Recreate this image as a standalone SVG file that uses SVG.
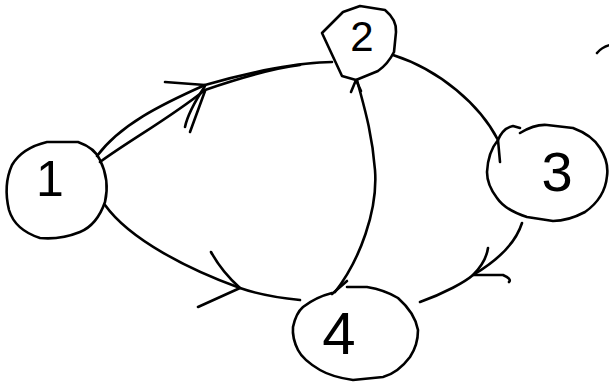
<svg xmlns="http://www.w3.org/2000/svg" width="609" height="385" viewBox="0 0 609 385">
<style>
.s{fill:none;stroke:#000;stroke-width:2.6;stroke-linecap:round;stroke-linejoin:round}
.t{font-family:"Liberation Sans",Arial,sans-serif;fill:#000;text-anchor:middle}
</style>
<rect width="609" height="385" fill="#fff"/>
<g id="connectors">
<path class="s" d="M97,156 C120,125 160,105 205,85 C250,72 300,62 332,62"/>
<path class="s" d="M100,162 C130,140 170,118 205,90 C240,78 275,68 300,65"/>
<path class="s" d="M165,82 L205,85 M185,127 Q188,112 205,86 M190,132 Q198,110 205,91"/>
<path class="s" d="M105,205 C130,240 190,270 240,288 C260,295 280,298 300,300"/>
<path class="s" d="M211,252 Q222,272 240,288 M198,307 L240,288"/>
<path class="s" d="M393,55 C440,70 480,105 498,140 L500,162"/>
<path class="s" d="M522,223 C515,245 495,262 473,275 C465,282 445,293 420,302"/>
<path class="s" d="M488,248 Q486,262 473,275 L503,275 Q512,279 509,282"/>
<path class="s" d="M335,292 C360,260 378,210 375,170 C372,130 362,100 357,80"/>
<path class="s" d="M351,92 L356,80 L361,91"/>
<path class="s" d="M332,294 L347,281"/>
<path class="s" d="M597,53 Q602,47 610,45"/>
</g>
<g id="node1">
<path class="s" d="M47,142 L78,142 Q95,148 100,160 Q110,180 105,202 Q97,225 80,232 Q60,240 40,238 Q15,230 9,210 Q3,185 12,165 Q22,148 47,142 Z"/>
<text class="t" x="50" y="196" font-size="50">1</text>
</g>
<g id="node2">
<path class="s" d="M322,33 L343,12 L360,6 L385,10 Q397,20 396,32 L394,52 Q388,64 378,71 L356,80 L342,76 Z"/>
<text class="t" x="362" y="51" font-size="42">2</text>
</g>
<g id="node3">
<path class="s" d="M520,133 Q535,124 547,125 L573,128 Q592,135 600,148 Q609,162 607,176 Q605,198 585,212 Q568,221 553,221 L527,217 Q505,210 497,198 Q487,185 487,172 Q488,152 498,140 Q503,128 513,126 L520,128"/>
<text class="t" x="557" y="191" font-size="56">3</text>
</g>
<g id="node4">
<path class="s" d="M347,287 L367,287 Q385,290 398,298 Q415,313 418,330 Q418,345 410,357 Q398,373 383,377 L353,380 Q332,377 320,370 Q303,360 298,350 Q292,338 293,327 Q296,313 303,307 Q316,297 332,293"/>
<text class="t" x="339" y="354" font-size="60">4</text>
</g>
</svg>
